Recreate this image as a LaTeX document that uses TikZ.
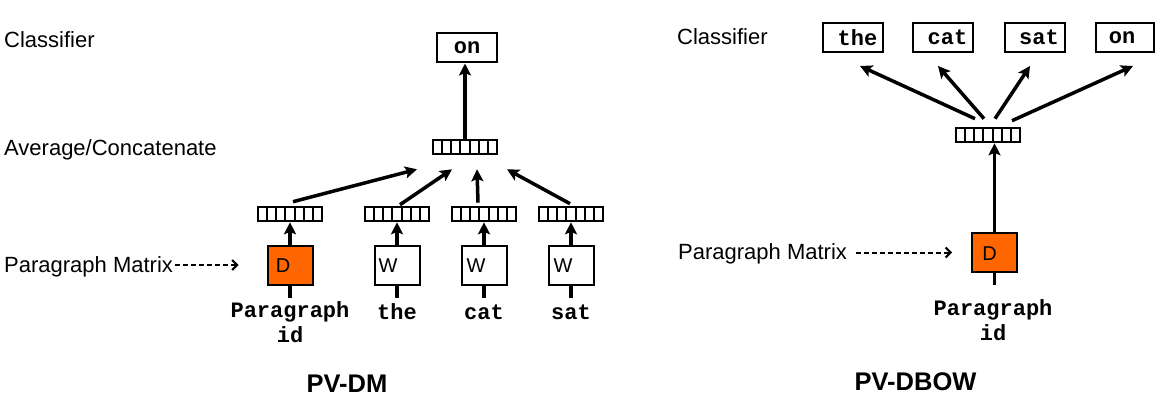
\documentclass[tikz,border=0pt]{standalone}
\usepackage{fontspec}
\setmainfont{Liberation Sans}
\newfontfamily\codefont{Liberation Mono}
\usetikzlibrary{arrows.meta,calc}
\definecolor{parorange}{RGB}{255,102,0}

\begin{document}
\begin{tikzpicture}[x=1pt,y=-1pt,
  lbl/.style={anchor=base west,inner sep=0pt,font=\fontsize{22}{24}\selectfont},
  title/.style={anchor=base,inner sep=0pt,font=\bfseries\fontsize{25.5}{28}\selectfont},
  word/.style={anchor=base,inner sep=0pt,align=center,font=\codefont\bfseries\fontsize{22}{25}\selectfont},
  outbox/.style={draw,line width=2pt,minimum width=60pt,minimum height=29pt,inner sep=0pt,
    font=\codefont\bfseries\fontsize{22}{24}\selectfont},
  emb/.style={draw,line width=2.6pt,minimum width=64pt,minimum height=14pt,inner sep=0pt,fill=white,
    path picture={
      \foreach \k in {1,...,6}{
        \draw[line width=2pt]
          ($(path picture bounding box.south west)!\k/7!(path picture bounding box.south east)$) --
          ($(path picture bounding box.north west)!\k/7!(path picture bounding box.north east)$);
      }}},
  matbox/.style={draw,line width=2pt,minimum width=45pt,minimum height=39pt,inner sep=0pt},
  matD/.style={matbox,fill=parorange},
  matW/.style={matbox,fill=white},
  letter/.style={inner sep=0pt,font=\fontsize{20}{21}\selectfont},
  arr/.style={line width=3.5pt,-{Stealth[length=12pt,width=12pt,inset=2.5pt]}},
  stem/.style={line width=3.5pt},
  dasharr/.style={line width=2pt,dash pattern=on 5pt off 3pt,-{Straight Barb[length=5pt,width=10pt,line width=2pt]}}
]
\useasboundingbox (0,0) rectangle (1170,412);
\fill[white] (0,0) rectangle (1170,412);

% ---------------- PV-DM ----------------
\node[lbl] (clsA) at (4,48) {Classifier};
\node[lbl] (avgA) at (4,155) {Average/Concatenate};
\node[lbl] (pmA) at (4,272) {Paragraph Matrix};

\node[outbox] (onA) at (467,48) {on};
\node[emb] (avg) at (465,147) {};

\node[emb] (e1) at (290,214) {};
\node[emb] (e2) at (397,214) {};
\node[emb] (e3) at (484,214) {};
\node[emb] (e4) at (571,214) {};

\node[matD] (d1) at (290,265) {};
\node[matW] (w1) at (397,265) {};
\node[matW] (w2) at (484,265) {};
\node[matW] (w3) at (571,265) {};
\node[letter] (d1t) at ($(d1.center)+(-7,1)$) {D};
\node[letter] (w1t) at ($(w1.center)+(-9,1)$) {W};
\node[letter] (w2t) at ($(w2.center)+(-8,1)$) {W};
\node[letter] (w3t) at ($(w3.center)+(-8,1)$) {W};

\coordinate (d1in) at (290,298);
\coordinate (w1in) at (397,298);
\coordinate (w2in) at (484,298);
\coordinate (w3in) at (571,298);
\draw[stem] (d1.south) -- (d1in);
\draw[stem] (w1.south) -- (w1in);
\draw[stem] (w2.south) -- (w2in);
\draw[stem] (w3.south) -- (w3in);

% multi-line word: base anchor sits on the last line
\node[word] (pidA) at (290,342) {Paragraph\\id};
\node[word] (theA) at (397,319) {the};
\node[word] (catA) at (484,319) {cat};
\node[word] (satA) at (571,319) {sat};

\draw[arr] (d1.north) -- (e1.south);
\draw[arr] (w1.north) -- (w1.north |- e2.south);
\draw[arr] (w2.north) -- (e3.south);
\draw[arr] (w3.north) -- (e4.south);

\draw[arr] ($(e1.north)+(3,-4)$) -- ($(avg.south)+(-48,14)$);
\draw[arr] ($(e2.north)+(3,-1)$) -- ($(avg.south)+(-13,14)$);
\draw[arr] ($(e3.north)+(-6,-3)$) -- ($(avg.south)+(12,14)$);
\draw[arr] ($(e4.north)+(-1,-2)$) -- ($(avg.south)+(42,14)$);

\draw[arr] (avg.north) -- (avg.north |- onA.south);

\draw[dasharr,shorten <=2pt,shorten >=28pt] (pmA.east |- d1.west) -- (d1.west);

\node[title] (dmT) at (347,392) {PV-DM};

% ---------------- PV-DBOW ----------------
\node[lbl] (clsB) at (677,45) {Classifier};
\node[lbl] (pmB) at (678,259) {Paragraph Matrix};

\node[outbox] (theB) at (853,37.5) {\hspace*{9pt}the};
\node[outbox] (catB) at (943,37.5) {\hspace*{9pt}cat};
\node[outbox] (satB) at (1034.5,37.5) {\hspace*{9pt}sat};
\node[outbox,minimum width=58pt] (onB) at (1125,37.5) {on\hspace*{6pt}};

\node[emb] (vB) at (988,135) {};
\node[matD] (dB) at (994.5,252.5) {};
\node[letter] (dBt) at ($(dB.center)+(-5,1)$) {D};

\coordinate (dBin) at (994.5,285);
\draw[stem] (dB.south) -- (dBin);
\node[word] (pidB) at (993,340) {Paragraph\\id};

\draw[arr] (dB.north) -- (dB.north |- vB.south);

\draw[arr] ($(vB.north)+(-13,-8)$) -- ($(theB.south)+(7,13)$);
\draw[arr] ($(vB.north)+(-4,-8)$) -- ($(catB.south)+(-5,13)$);
\draw[arr] ($(vB.north)+(7,-8)$) -- ($(satB.south)+(-4.5,13)$);
\draw[arr] ($(vB.north)+(24,-6)$) -- ($(onB.south)+(8,13)$);

\draw[dasharr,shorten <=9pt,shorten >=19pt] (pmB.east |- dB.west) -- (dB.west);

\node[title] (dbowT) at (915.5,390) {PV-DBOW};
\end{tikzpicture}
\end{document}
